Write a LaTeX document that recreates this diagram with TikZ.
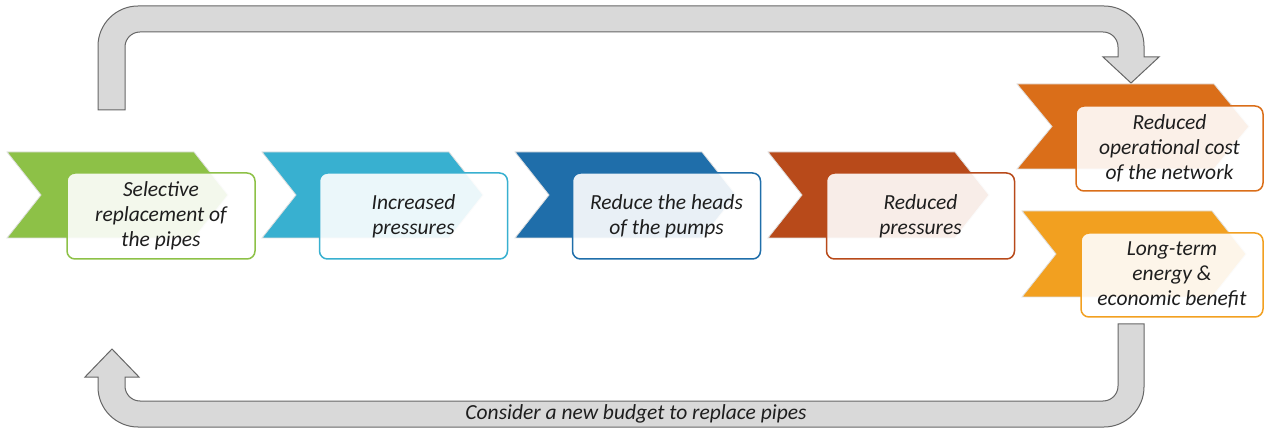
\documentclass[tikz,border=0pt]{standalone}
\usepackage{fontspec}
\setmainfont{Carlito}
\definecolor{cgreen}{HTML}{8DC147}
\definecolor{clblue}{HTML}{38B0D0}
\definecolor{cdblue}{HTML}{1F6EAA}
\definecolor{crust}{HTML}{B84A1A}
\definecolor{corange}{HTML}{DA6E19}
\definecolor{cyellow}{HTML}{F2A020}
\definecolor{cbar}{HTML}{D9D9D9}
\definecolor{cbarline}{HTML}{666666}
\definecolor{ctext}{HTML}{1E1E1E}
\tikzset{
  chev/.style={fill=#1, draw=gray!25, line width=0.8pt, line join=miter},
  stepbox/.style={draw=#1, line width=1.5pt, fill=white, fill opacity=0.9,
    text opacity=1, rounded corners=8pt, minimum width=188pt, minimum height=86pt,
    inner sep=2pt, align=center, text=ctext,
    font=\fontsize{21.5}{25}\selectfont\itshape},
  loopbar/.style={fill=cbar, draw=cbarline, line width=1pt, line join=miter},
}
\begin{document}
\begin{tikzpicture}[x=1pt,y=-1pt]
\useasboundingbox (0,0) rectangle (1264,430);

% chevrons behind the step boxes
\path[chev=cgreen]  (7,152) -- (194,152) -- (228,195) -- (194,238) -- (7,238) -- (41,195) -- cycle;
\path[chev=clblue]  (262,152) -- (449,152) -- (483,195) -- (449,238) -- (262,238) -- (296,195) -- cycle;
\path[chev=cdblue]  (515,152) -- (702,152) -- (736,195) -- (702,238) -- (515,238) -- (549,195) -- cycle;
\path[chev=crust]   (768,152) -- (955,152) -- (989,195) -- (955,238) -- (768,238) -- (802,195) -- cycle;
\path[chev=corange] (1017,84) -- (1214,84) -- (1249,126.5) -- (1214,169) -- (1017,169) -- (1052,126.5) -- cycle;
\path[chev=cyellow] (1022,211) -- (1212,211) -- (1246,254) -- (1212,297) -- (1022,297) -- (1056,254) -- cycle;

% step boxes
\node[stepbox=cgreen]  (s1) at (161,216)    {Selective\\replacement of\\the pipes};
\node[stepbox=clblue]  (s2) at (413.5,216)  {Increased\\pressures};
\node[stepbox=cdblue]  (s3) at (666.5,216)  {Reduce the heads\\of the pumps};
\node[stepbox=crust]   (s4) at (920.5,216)  {Reduced\\pressures};
\node[stepbox=corange, minimum width=187pt, minimum height=85pt] (s5) at (1169.5,148.5) {Reduced\\operational cost\\of the network};
\node[stepbox=cyellow, minimum width=182pt, minimum height=84pt] (s6) at (1172,275) {Long-term\\energy \&\\economic benefit};

% upper loop arrow: from the first step over to the cost node
\path[loopbar] (98,110) -- (98,46) .. controls (98,24) and (116,6) .. (138,6)
  -- (1104,6) .. controls (1126,6) and (1144,24) .. (1144,46)
  -- (1144,57) -- (1159,57) -- (1131,83) -- (1103,57) -- (1118,57)
  -- (1118,47) .. controls (1118,38.7) and (1111.3,32) .. (1103,32)
  -- (140,32) .. controls (131.7,32) and (125,38.7) .. (125,47)
  -- (125,110) -- cycle;

% lower loop arrow: from the benefit node back to the start
\path[loopbar] (1118,324) -- (1144,324) -- (1144,387)
  .. controls (1144,409) and (1126,427) .. (1104,427)
  -- (138,427) .. controls (116,427) and (98,409) .. (98,387)
  -- (98,377) -- (85,377) -- (112,349) -- (139,377) -- (125,377)
  -- (125,386) .. controls (125,394.3) and (131.7,401) .. (140,401)
  -- (1103,401) .. controls (1111.3,401) and (1118,394.3) .. (1118,386) -- cycle;

\node[text=ctext, font=\fontsize{21.5}{24}\selectfont\itshape] (budget) at (636,413.5)
  {Consider a new budget to replace pipes};
\end{tikzpicture}
\end{document}
